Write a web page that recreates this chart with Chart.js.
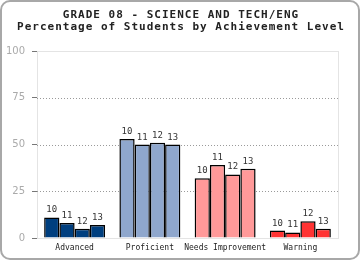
<!DOCTYPE html>
<html>
<head>
<meta charset="utf-8">
<script src="https://cdn.jsdelivr.net/npm/chart.js@4/dist/chart.umd.min.js"></script>
<style>
  html, body { margin: 0; padding: 0; background: #fff; }
  #wrap { position: relative; width: 360px; height: 260px; }
  #frame { position: absolute; left: 0; top: 0; width: 360px; height: 260px; box-sizing: border-box;
           border: 2px solid #a8a8a8; border-radius: 10px; pointer-events: none; }
  canvas { position: absolute; left: 0; top: 0; }
</style>
</head>
<body>
<div id="wrap">
  <canvas id="c" width="360" height="260"></canvas>
  <div id="frame"></div>
</div>
<script>
const titleLines = ["GRADE 08 - SCIENCE AND TECH/ENG", "Percentage of Students by Achievement Level"];
const categories = ["Advanced", "Proficient", "Needs Improvement", "Warning"];
const years = ["10", "11", "12", "13"];
const values10 = [11, 53, 32, 4];
const values11 = [8, 50, 39, 3];
const values12 = [5, 51, 34, 9];
const values13 = [7, 50, 37, 5];
const categoryColors = ["#003f7f", "#8fa7cd", "#ff9999", "#ff3333"];
const yTicks = [0, 25, 50, 75, 100];

const seriesValues = [values10, values11, values12, values13];

const titlePlugin = {
  id: 'monoTitle',
  afterDraw(chart) {
    const ctx = chart.ctx;
    ctx.save();
    ctx.font = 'bold 11px "DejaVu Sans Mono"';
    if ('letterSpacing' in ctx) ctx.letterSpacing = '1px';
    ctx.fillStyle = '#222';
    ctx.textAlign = 'center';
    ctx.textBaseline = 'alphabetic';
    ctx.fillText(titleLines[0], 181, 17.5);
    ctx.fillText(titleLines[1], 181, 29.5);
    ctx.restore();
  }
};

const gridPlugin = {
  id: 'dottedGrid',
  beforeDatasetsDraw(chart) {
    const ctx = chart.ctx, a = chart.chartArea, y = chart.scales.y;
    ctx.save();
    ctx.strokeStyle = '#e4e4e4';
    ctx.lineWidth = 1;
    ctx.strokeRect(Math.round(a.left) + 0.5, Math.round(a.top) + 0.5, Math.round(a.right - a.left), Math.round(a.bottom - a.top));
    ctx.strokeStyle = '#9a9a9a';
    ctx.setLineDash([1, 2]);
    yTicks.forEach(v => {
      if (v === 0 || v === 100) return;
      const py = Math.round(y.getPixelForValue(v)) + 0.5;
      ctx.beginPath();
      ctx.moveTo(a.left, py);
      ctx.lineTo(a.right, py);
      ctx.stroke();
    });
    ctx.restore();
  }
};

const labelPlugin = {
  id: 'barLabels',
  afterDatasetsDraw(chart) {
    const ctx = chart.ctx;
    ctx.save();
    ctx.font = '9px "DejaVu Sans Mono"';
    ctx.fillStyle = '#333';
    ctx.textAlign = 'center';
    ctx.textBaseline = 'alphabetic';
    chart.data.datasets.forEach((ds, i) => {
      chart.getDatasetMeta(i).data.forEach(el => {
        ctx.fillText(ds.label, el.x, el.y - 5);
      });
    });
    ctx.restore();
  }
};

new Chart(document.getElementById('c'), {
  type: 'bar',
  data: {
    labels: categories,
    datasets: years.map((yr, i) => ({
      label: yr,
      data: seriesValues[i],
      backgroundColor: categoryColors,
      borderColor: '#000',
      borderWidth: 1.5,
      borderSkipped: 'bottom',
      categoryPercentage: 0.81,
      barPercentage: 1.0
    }))
  },
  options: {
    responsive: false,
    animation: false,
    events: [],
    layout: { padding: { top: 51, right: 22, left: 0, bottom: 0 } },
    plugins: {
      legend: { display: false },
      title: { display: false },
      tooltip: { enabled: false }
    },
    scales: {
      x: {
        grid: { display: false, drawTicks: false },
        border: { display: false },
        ticks: { font: { family: 'DejaVu Sans Mono', size: 8 }, color: '#222', padding: 5, maxRotation: 0, autoSkip: false },
        afterFit: s => { s.height = 22; }
      },
      y: {
        min: 0, max: 100,
        afterBuildTicks: s => { s.ticks = yTicks.map(v => ({ value: v })); },
        grid: { drawOnChartArea: false, tickLength: 5, tickColor: '#777', tickWidth: 1 },
        border: { display: false },
        ticks: { font: { family: 'DejaVu Sans', size: 10 }, color: '#aaa', padding: 7 },
        afterFit: s => { s.width = 37; }
      }
    }
  },
  plugins: [gridPlugin, labelPlugin, titlePlugin]
});
</script>
</body>
</html>
